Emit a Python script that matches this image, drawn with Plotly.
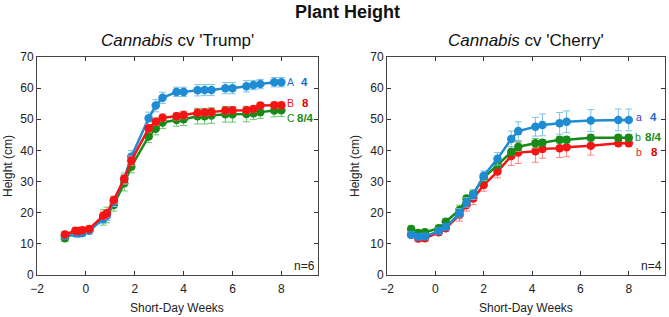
import plotly.graph_objects as go

# ---------------- data ----------------
weeks_trump = [-0.86, -0.43, -0.29, -0.14, 0.14, 0.71, 0.86, 1.14, 1.57, 1.86, 2.57, 2.86, 3.14,
               3.71, 4.0, 4.57, 4.86, 5.14, 5.71, 6.0, 6.57, 6.86, 7.14, 7.71, 8.0]
trump_4 = [12.6, 13.4, 13.3, 13.5, 14.2, 18.0, 19.0, 23.5, 31.0, 38.0, 50.3, 54.4, 56.9,
           58.8, 58.8, 59.3, 59.4, 59.4, 60.0, 60.0, 60.6, 61.0, 61.3, 61.9, 61.9]
trump_4_err = [1.0, 1.0, 1.0, 1.0, 1.0, 1.5, 1.5, 1.5, 1.8, 2.0, 2.0, 2.0, 1.8,
               1.5, 1.5, 1.8, 1.8, 1.8, 1.8, 1.8, 1.8, 1.5, 1.5, 1.5, 1.5]
trump_8 = [13.0, 14.2, 14.1, 14.4, 14.8, 19.0, 19.8, 24.1, 30.8, 36.7, 47.1, 49.2, 50.5,
           51.0, 51.4, 52.1, 52.2, 52.3, 52.8, 52.9, 52.9, 53.3, 54.4, 54.5, 54.5]
trump_8_err = [1.0, 1.0, 1.0, 1.0, 1.0, 1.2, 1.2, 1.2, 1.5, 1.5, 1.2, 1.2, 1.2,
               1.2, 1.2, 1.0, 1.0, 1.0, 1.0, 1.0, 1.0, 1.0, 1.0, 1.0, 1.0]
trump_84 = [11.8, 13.5, 13.6, 13.8, 14.5, 18.5, 19.3, 22.5, 29.5, 34.8, 44.5, 47.0, 49.0,
            49.8, 50.0, 51.0, 51.0, 51.2, 51.6, 51.6, 51.7, 51.9, 52.3, 52.8, 52.9]
trump_84_err = [1.0, 1.0, 1.0, 1.0, 1.0, 2.5, 2.5, 2.0, 2.5, 2.0, 2.0, 2.0, 2.0,
                2.0, 2.0, 2.5, 2.5, 2.5, 2.5, 2.5, 2.5, 2.0, 2.0, 2.0, 2.0]

weeks_cherry = [-1.0, -0.71, -0.43, 0.14, 0.43, 1.0, 1.29, 1.57, 2.0, 2.57, 3.14, 3.43,
                4.14, 4.43, 5.14, 5.43, 6.43, 7.57, 8.0]
cherry_4 = [12.9, 12.3, 12.4, 14.1, 15.4, 19.8, 23.3, 25.8, 31.9, 37.3, 43.7, 46.2,
            47.6, 48.2, 48.7, 49.2, 49.6, 49.8, 49.8]
cherry_4_err = [1.0, 1.0, 1.0, 1.0, 1.0, 1.5, 1.5, 1.5, 1.5, 2.0, 2.5, 3.0,
                3.0, 3.5, 3.5, 3.5, 3.5, 3.5, 3.5]
cherry_8 = [13.0, 11.7, 11.8, 13.7, 15.0, 19.3, 22.5, 24.6, 28.9, 33.2, 38.2, 39.3,
            39.7, 40.5, 40.7, 41.0, 41.5, 42.3, 42.3]
cherry_8_err = [1.0, 1.0, 1.0, 1.0, 1.0, 2.0, 2.0, 2.0, 2.0, 2.0, 3.0, 3.5,
                3.5, 3.0, 3.0, 3.0, 3.0, 1.0, 1.0]
cherry_84 = [14.8, 13.5, 13.7, 15.0, 17.1, 20.9, 24.6, 26.2, 31.2, 35.5, 39.5, 41.2,
             42.3, 42.5, 43.4, 43.4, 44.1, 44.1, 44.1]
cherry_84_err = [1.0, 1.0, 1.0, 1.0, 1.0, 1.5, 1.0, 1.0, 1.0, 1.0, 1.0, 1.5,
                 1.5, 1.0, 1.0, 1.0, 1.0, 1.0, 1.0]

x_ticks = [-2, 0, 2, 4, 6, 8]
y_ticks = [0, 10, 20, 30, 40, 50, 60, 70]

# ---------------- styles ----------------
BLUE, BLUE_E = "#1f8bd3", "#7cc3ea"
RED, RED_E = "#f51414", "#ff8080"
GREEN, GREEN_E = "#178a17", "#6cc46c"
FONT = "Liberation Sans, Arial, sans-serif"

fig = go.Figure()

def add_series(x, y, err, color, ecolor, xa, ya):
    fig.add_trace(go.Scatter(
        x=x, y=y, mode="lines+markers", xaxis=xa, yaxis=ya,
        line=dict(color=color, width=2.5),
        marker=dict(color=color, size=8.5),
        error_y=dict(type="data", array=err, visible=True, color=ecolor,
                     thickness=1, width=3.5),
        showlegend=False))

add_series(weeks_trump, trump_84, trump_84_err, GREEN, GREEN_E, "x", "y")
add_series(weeks_trump, trump_4, trump_4_err, BLUE, BLUE_E, "x", "y")
add_series(weeks_trump, trump_8, trump_8_err, RED, RED_E, "x", "y")

add_series(weeks_cherry, cherry_8, cherry_8_err, RED, RED_E, "x2", "y2")
add_series(weeks_cherry, cherry_84, cherry_84_err, GREEN, GREEN_E, "x2", "y2")
add_series(weeks_cherry, cherry_4, cherry_4_err, BLUE, BLUE_E, "x2", "y2")

ydom = [42 / 317, 260 / 317]
xdom1 = [37 / 669, 318 / 669]
xdom2 = [387 / 669, 665 / 669]
axis_common = dict(
    showline=True, linecolor="#444444", linewidth=1, mirror="ticks",
    ticks="inside", ticklen=4, tickcolor="#333333", showgrid=False, zeroline=False,
    automargin=False,
    tickfont=dict(family=FONT, size=12, color="#222222"))

fig.update_layout(
    width=669, height=317,
    margin=dict(l=0, r=0, t=0, b=0, pad=0, autoexpand=False),
    paper_bgcolor="white", plot_bgcolor="white",
    font=dict(family=FONT, color="#222222"),
    xaxis=dict(domain=xdom1, range=[-2, 9.5], tickvals=x_ticks, anchor="y",
               ticklabelstandoff=3, **axis_common),
    yaxis=dict(domain=ydom, range=[0, 70], tickvals=y_ticks, anchor="x", **axis_common),
    xaxis2=dict(domain=xdom2, range=[-2, 9.5], tickvals=x_ticks, anchor="y2",
                ticklabelstandoff=3, **axis_common),
    yaxis2=dict(domain=ydom, range=[0, 70], tickvals=y_ticks, anchor="x2", **axis_common),
)

ann = []
ann.append(dict(text="<b>Plant Height</b>", x=347 / 669, y=1 - 12 / 317, xref="paper", yref="paper",
                showarrow=False, font=dict(size=18, color="#111111", family=FONT),
                xanchor="center", yanchor="middle"))
for xc, name in [(sum(xdom1) / 2, "<i>Cannabis</i> cv 'Trump'"),
                 (sum(xdom2) / 2, "<i>Cannabis</i> cv 'Cherry'")]:
    ann.append(dict(text=name, x=xc, y=1 - 40 / 317, xref="paper", yref="paper",
                    showarrow=False, font=dict(size=17, color="#111111", family=FONT),
                    xanchor="center", yanchor="middle"))
for xc in [sum(xdom1) / 2, sum(xdom2) / 2]:
    ann.append(dict(text="Short-Day Weeks", x=xc, y=1 - 308 / 317, xref="paper", yref="paper",
                    showarrow=False, font=dict(size=12, color="#222222", family=FONT),
                    xanchor="center", yanchor="middle"))
for xp in [8 / 669, 355 / 669]:
    ann.append(dict(text="Height (cm)", x=xp, y=sum(ydom) / 2, xref="paper",
                    yref="paper", showarrow=False, textangle=-90,
                    font=dict(size=12, color="#222222", family=FONT),
                    xanchor="center", yanchor="middle"))

ann.append(dict(text="n=6", x=9.45, y=0.0, xref="x", yref="y", showarrow=False,
                xanchor="right", yanchor="bottom", font=dict(size=12, color="#222222", family=FONT)))
ann.append(dict(text="n=4", x=9.45, y=0.0, xref="x2", yref="y2", showarrow=False,
                xanchor="right", yanchor="bottom", font=dict(size=12, color="#222222", family=FONT)))

def lab(xref, yref, letter, ly, treat, lcolor, tcolor, lx, tx):
    ann.append(dict(text=letter, x=lx, y=ly, xref=xref, yref=yref, showarrow=False,
                    xanchor="left", yanchor="middle", borderpad=0,
                    font=dict(size=10.5, color=lcolor, family=FONT)))
    ann.append(dict(text="<b>" + treat + "</b>", x=tx, y=ly, xref=xref, yref=yref,
                    showarrow=False, xanchor="left", yanchor="middle", borderpad=0,
                    font=dict(size=11.5, color=tcolor, family=FONT)))

lab("x", "y", "A", 62.0, "4", "#2b6fd6", "#1a6ad0", 8.2, 8.75)
lab("x", "y", "B", 55.1, "8", "#e82020", "#e00000", 8.2, 8.8)
lab("x", "y", "C", 50.5, "8/4", "#1a8a1a", "#1a8a1a", 8.2, 8.6)

lab("x2", "y2", "a", 50.7, "4", "#3838d0", "#1a6ad0", 8.25, 8.85)
lab("x2", "y2", "b", 44.3, "8/4", "#1a8a1a", "#1a8a1a", 8.22, 8.64)
lab("x2", "y2", "b", 39.5, "8", "#e82020", "#e00000", 8.27, 8.87)

fig.update_layout(annotations=ann)

fig.write_html("out.html")
